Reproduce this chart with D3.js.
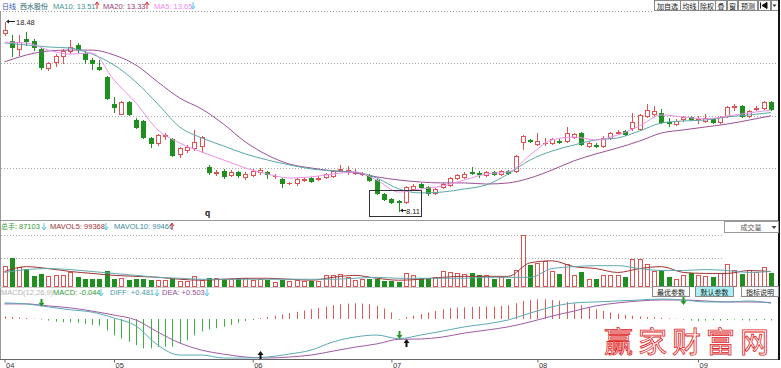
<!DOCTYPE html>
<html><head><meta charset="utf-8">
<script src="https://cdn.jsdelivr.net/npm/d3@7/dist/d3.min.js"></script>
<style>
html,body{margin:0;padding:0;background:#fff;}
svg{display:block;}
</style></head><body>
<svg id="chart" width="781" height="368"></svg>
<script>
// ---------------- DATA ----------------
const opens  = [17.88,17.44,17.00,17.55,17.44,17.00,15.95,16.28,16.61,16.89,17.22,16.78,16.39,16.01,15.46,13.98,13.43,14.09,13.10,13.05,12.11,11.84,12.22,12.06,11.23,11.45,11.56,11.67,10.52,10.19,10.30,10.08,10.25,9.97,10.08,10.25,10.25,10.03,9.86,9.64,9.64,9.81,9.92,9.86,9.97,10.03,10.36,10.30,10.19,10.14,10.08,9.81,9.04,8.76,8.65,8.60,9.31,9.59,9.42,9.09,9.42,9.53,9.92,9.97,10.25,10.19,10.08,10.25,10.14,10.30,10.30,11.89,12.00,11.78,11.84,11.84,11.95,11.95,12.17,12.39,11.67,11.73,11.67,12.11,12.39,12.50,12.66,12.61,13.32,13.43,13.48,12.99,12.88,13.16,13.26,13.16,13.05,13.16,12.99,13.32,13.81,13.87,13.32,13.70,13.76,14.09];
const highs  = [18.48,17.77,17.77,17.93,17.55,17.05,16.28,16.72,17.00,17.49,17.33,16.89,16.50,16.39,15.52,14.36,14.14,14.14,13.21,13.10,12.17,12.33,12.39,12.11,11.62,11.73,12.55,12.22,10.63,10.36,10.41,10.36,10.30,10.25,10.41,10.46,10.30,10.14,9.92,9.70,9.92,9.97,9.97,10.03,10.19,10.36,10.63,10.57,10.41,10.25,10.14,9.86,9.09,8.82,8.71,9.48,9.59,9.64,9.48,9.37,9.64,9.97,10.14,10.25,10.52,10.30,10.30,10.30,10.36,10.36,11.18,12.28,12.06,12.39,12.11,12.11,12.06,12.72,12.39,12.44,11.89,11.84,12.22,12.44,12.55,12.55,13.48,13.43,13.98,13.87,13.70,13.21,13.16,13.32,13.32,13.32,13.43,13.21,13.32,13.87,13.98,13.92,13.65,13.87,14.14,14.14];
const lows   = [17.77,16.61,16.67,17.22,16.94,15.90,15.85,16.06,16.23,16.78,16.83,16.23,15.90,15.85,14.25,13.54,13.43,13.37,12.66,12.11,11.62,11.73,12.06,11.12,11.07,11.34,11.45,11.34,10.14,10.08,9.92,10.03,9.97,9.86,10.03,10.14,9.92,9.92,9.42,9.59,9.53,9.75,9.70,9.81,9.92,9.97,10.30,10.14,10.14,10.08,9.75,9.04,8.71,8.54,8.11,8.54,9.26,9.37,8.98,9.04,9.37,9.48,9.86,9.92,10.14,9.97,10.03,10.08,10.08,10.14,10.25,11.51,11.89,11.73,11.73,11.78,11.84,11.89,12.11,11.73,11.62,11.62,11.62,12.06,12.33,12.28,12.55,12.55,13.26,13.32,12.94,12.77,12.83,13.05,13.10,12.94,12.99,12.94,12.94,13.26,13.65,13.26,13.26,13.65,13.70,13.65];
const closes = [18.04,17.11,17.38,17.44,17.11,16.01,16.23,16.61,16.89,17.11,17.00,16.45,16.23,15.90,14.31,13.81,14.09,13.43,12.72,12.17,11.84,12.28,12.28,11.18,11.56,11.62,11.89,12.17,10.25,10.25,10.03,10.25,10.08,10.14,10.30,10.36,10.14,10.04,9.64,9.67,9.86,9.86,9.75,9.92,10.14,10.30,10.41,10.36,10.25,10.19,9.81,9.09,8.76,8.60,8.60,9.42,9.48,9.42,9.09,9.31,9.59,9.92,10.08,10.14,10.17,10.14,10.25,10.14,10.30,10.19,11.12,12.22,11.95,11.95,11.86,12.06,11.92,12.39,12.33,11.78,11.84,11.70,12.11,12.39,12.44,12.33,12.99,13.37,13.65,13.59,12.99,12.94,13.05,13.26,13.16,13.18,13.21,12.99,13.26,13.81,13.87,13.32,13.59,13.76,14.09,13.70];
const volumes = [137000,185000,126000,116000,70000,85000,70000,79000,79000,95000,64000,54000,54000,50000,101000,50000,58000,44000,54000,50000,44000,44000,44000,50000,39000,39000,68000,44000,58000,60000,54000,54000,60000,60000,48000,50000,44000,33000,44000,37000,44000,37000,39000,39000,75000,75000,85000,64000,44000,54000,54000,54000,37000,39000,29000,89000,75000,58000,54000,64000,100000,95000,91000,85000,89000,79000,75000,50000,64000,54000,112000,334000,141000,154000,168000,100000,85000,147000,79000,95000,50000,50000,79000,75000,75000,64000,178000,178000,147000,100000,106000,64000,54000,79000,91000,75000,70000,64000,91000,147000,106000,85000,106000,95000,126000,87103];

// moving-average lines at every third session
const maIdx = [0,3,6,9,12,15,18,21,24,27,30,33,36,39,42,45,48,51,54,57,60,63,66,69,72,75,78,81,84,87,90,93,96,99,102,105];
const ma5  = [17.38,17.33,16.94,16.72,16.78,15.30,14.04,12.56,11.84,11.35,10.91,10.47,10.14,9.92,9.98,10.14,10.25,9.81,9.15,9.32,9.48,9.81,10.14,10.25,11.18,12.01,12.17,12.01,12.28,12.78,13.38,13.27,13.16,13.32,13.49,13.65];
const ma10 = [17.33,17.22,17.11,17.05,16.72,16.12,15.19,13.98,12.72,12.12,11.68,11.24,10.91,10.64,10.42,10.31,10.25,9.92,9.32,9.10,9.15,9.32,9.54,10.14,10.91,11.40,11.73,12.01,12.12,12.50,12.94,13.05,13.10,13.27,13.38,13.51];
const ma20 = [16.29,16.67,16.89,16.94,16.94,16.67,16.12,15.19,14.31,13.71,12.88,11.90,11.18,10.69,10.47,10.31,10.20,9.98,9.81,9.70,9.65,9.65,9.59,9.65,9.92,10.36,10.86,11.24,11.57,11.95,12.39,12.56,12.72,12.88,13.10,13.33];
const mavol5  = [99500,130600,118200,99500,87100,74600,68400,62200,49800,43500,49800,56000,56000,49800,43500,62200,74600,56000,43500,49800,62200,68400,68400,68400,155500,168000,130600,118200,93300,118200,130600,93300,87100,87100,105700,99368];
const mavol10 = [93300,112000,118200,112000,99500,87100,74600,62200,56000,49800,49800,49800,49800,49800,49800,49800,56000,62200,56000,56000,56000,56000,62200,62200,62200,118200,130600,136800,136800,118200,105700,105700,112000,105700,93300,99466];
const diff = [0.49,0.46,0.37,0.28,0.21,0.03,-0.21,-0.80,-1.10,-1.10,-1.19,-1.19,-1.16,-1.07,-0.95,-0.70,-0.55,-0.49,-0.60,-0.49,-0.37,-0.24,-0.15,-0.03,0.18,0.37,0.49,0.52,0.55,0.58,0.61,0.58,0.52,0.52,0.55,0.481];
const dea  = [0.46,0.46,0.40,0.34,0.24,0.12,-0.03,-0.40,-0.73,-0.95,-1.07,-1.16,-1.19,-1.16,-1.10,-0.98,-0.86,-0.76,-0.62,-0.61,-0.55,-0.43,-0.34,-0.24,-0.09,0.09,0.24,0.40,0.49,0.55,0.58,0.58,0.55,0.52,0.52,0.503];
const macdBar = [0.08,0.06,0.05,0.03,0.01,-0.02,-0.05,-0.08,-0.10,-0.10,-0.12,-0.15,-0.18,-0.20,-0.35,-0.50,-0.60,-0.70,-0.80,-0.90,-0.90,-0.85,-0.85,-0.85,-0.75,-0.65,-0.50,-0.38,-0.32,-0.28,-0.24,-0.18,-0.12,-0.06,-0.03,0.03,0.06,0.10,0.14,0.18,0.22,0.26,0.30,0.34,0.38,0.42,0.45,0.47,0.48,0.47,0.45,0.40,0.32,0.20,-0.02,0.05,0.10,0.15,0.20,0.25,0.30,0.33,0.35,0.36,0.37,0.38,0.38,0.38,0.40,0.42,0.48,0.55,0.58,0.60,0.60,0.58,0.56,0.52,0.48,0.42,0.36,0.30,0.25,0.20,0.16,0.13,0.10,0.08,0.06,0.05,0.04,0.02,0.01,-0.02,-0.05,-0.06,-0.05,-0.04,-0.05,-0.03,-0.02,-0.04,-0.05,-0.04,-0.03,-0.044];
const crossIdx  = [5, 35, 54, 55, 93];
const crossType = ["down","up","down","up","down"];
const crossVal  = [0.37, -0.98, -0.61, -0.61, 0.43];
const monthIdx    = [0, 15, 34, 53, 73, 95];
const monthLabels = ["04","05","06","07","08","09"];
const stockName = "西水股份";
const highVal = 18.48, lowVal = 8.11;

// ---------------- CHART ----------------
const svg = d3.select("#chart");
const RED = "#e05252", GREEN = "#1f8f1f";
const LATIN = "'Liberation Sans', Arial, sans-serif";
const CJK = "'Noto Sans CJK SC', sans-serif";
const N = closes.length;

const x  = d3.scaleLinear().domain([0, N-1]).range([4.5, 771]);
const yP = d3.scaleLinear().domain([lowVal, highVal]).range([211, 22]);
const yV = d3.scaleLinear().domain([0, 340000]).range([287, 234]);
const yM = d3.scaleLinear().domain([-1.19, 0.61]).range([358, 299]);

function txt(g, px, py, s, color, size, fam, anchor) {
  return g.append("text").attr("x", px).attr("y", py).text(s)
    .attr("fill", color).attr("font-size", size).attr("font-family", fam)
    .attr("text-anchor", anchor || "start");
}
function smallArrow(g, ax, ay, dir, color) {
  const p = dir === "up"
    ? `M${ax},${ay+7}L${ax},${ay}M${ax-2},${ay+3}L${ax},${ay}L${ax+2},${ay+3}`
    : `M${ax},${ay}L${ax},${ay+7}M${ax-2},${ay+4}L${ax},${ay+7}L${ax+2},${ay+4}`;
  g.append("path").attr("d", p).attr("stroke", color).attr("fill", "none").attr("stroke-width", 1);
}
function hline(y, x1, x2, color, dash) {
  const l = svg.append("line").attr("x1", x1).attr("x2", x2).attr("y1", y).attr("y2", y)
    .attr("stroke", color).attr("stroke-width", 1);
  if (dash) l.attr("stroke-dasharray", dash);
}

// frames and grid
svg.append("line").attr("x1",0.5).attr("x2",0.5).attr("y1",11).attr("y2",359).attr("stroke","#999");
hline(11.5, 0, 653, "#999", "1,2");
[63.5, 116.5, 168.5].forEach(y => hline(y, 1, 778, "#aaa", "1,2"));
hline(220.5, 0, 778, "#999");
[235.5, 258.5].forEach(y => hline(y, 1, 724, "#aaa", "1,2"));
hline(287.5, 0, 652, "#ccc");
hline(359.5, 0, 778, "#666");

// title row
const gT = svg.append("g");
txt(gT, 2, 8.5, "日线", "#3355bb", 7, CJK);
txt(gT, 20, 8.5, stockName, "#226666", 7, CJK);
txt(gT, 53, 8.5, "MA10: " + ma10[ma10.length-1].toFixed(2), "#3f9494", 7.5, LATIN);
smallArrow(gT, 97, 2, "up", "#e03030");
txt(gT, 103, 8.5, "MA20: " + ma20[ma20.length-1].toFixed(2), "#9a3a72", 7.5, LATIN);
smallArrow(gT, 147, 2, "up", "#e03030");
txt(gT, 154, 8.5, "MA5: " + ma5[ma5.length-1].toFixed(2), "#ee88ee", 7.5, LATIN);
smallArrow(gT, 193, 2, "down", "#55c8ee");

// top buttons
const btns = [[654,26,"加自选"],[680,18,"均线"],[698,17,"除权"],[715,11,"叠"],[727,10,"窗"],[738,19,"预测"],[758,12,""],[771,7,""]];
btns.forEach(b => {
  svg.append("rect").attr("x", b[0]+0.5).attr("y", 0.5).attr("width", b[1]).attr("height", 10)
    .attr("fill", "#fafafa").attr("stroke", "#888");
  if (b[2]) txt(svg, b[0] + b[1]/2 + 0.5, 8.5, b[2], "#222", 7, CJK, "middle");
});
svg.append("path").attr("d","M760.5,2.5L760.5,8.5M767,2.5L762,5.5L767,8.5Z").attr("stroke","#111").attr("fill","#111");
svg.append("path").attr("d","M772.5,4.5L776.5,4.5L774.5,7Z").attr("fill","#333");
svg.append("line").attr("x1",779).attr("x2",779).attr("y1",0).attr("y2",360).attr("stroke","#111").attr("stroke-width",2);

// candles
const gC = svg.append("g");
for (let i = 0; i < N; i++) {
  const cx = Math.round(x(i));
  const up = closes[i] >= opens[i];
  const col = up ? RED : GREEN;
  const yt = Math.round(yP(Math.max(opens[i], closes[i])));
  const yb = Math.round(yP(Math.min(opens[i], closes[i])));
  const yh = Math.round(yP(highs[i])), yl = Math.round(yP(lows[i]));
  gC.append("line").attr("x1", cx+0.5).attr("x2", cx+0.5).attr("y1", yh).attr("y2", yt).attr("stroke", col);
  gC.append("line").attr("x1", cx+0.5).attr("x2", cx+0.5).attr("y1", yb+1).attr("y2", yl+1).attr("stroke", col);
  if (yb - yt < 1) {
    gC.append("line").attr("x1", cx-2).attr("x2", cx+3).attr("y1", yt+0.5).attr("y2", yt+0.5).attr("stroke", col);
  } else if (up) {
    gC.append("rect").attr("x", cx-1.5).attr("y", yt+0.5).attr("width", 4).attr("height", yb-yt)
      .attr("fill", "#fff").attr("stroke", col);
  } else {
    gC.append("rect").attr("x", cx-2).attr("y", yt).attr("width", 5).attr("height", yb-yt+1).attr("fill", col);
  }
}

// MA lines
function maLine(vals, scale) {
  return d3.line().x((d, j) => x(maIdx[j])).y(d => scale(d)).curve(d3.curveMonotoneX)(vals);
}
svg.append("path").attr("d", maLine(ma20, yP)).attr("fill","none").attr("stroke","#9c4f98").attr("stroke-width",1);
svg.append("path").attr("d", maLine(ma10, yP)).attr("fill","none").attr("stroke","#5aa8a8").attr("stroke-width",1);
svg.append("path").attr("d", maLine(ma5, yP)).attr("fill","none").attr("stroke","#ee90ee").attr("stroke-width",1);

// high / low markers
const iHi = highs.indexOf(d3.max(highs)), iLo = lows.indexOf(d3.min(lows));
{
  const hx = Math.round(x(iHi)) + 1, hy = Math.round(yP(highs[iHi])) - 0.5;
  svg.append("line").attr("x1", hx+1).attr("x2", hx+9).attr("y1", hy).attr("y2", hy).attr("stroke","#222");
  svg.append("path").attr("d", `M${hx},${hy}L${hx+3},${hy-2}L${hx+3},${hy+2}Z`).attr("fill","#222");
  txt(svg, hx+10, hy+3, highVal.toFixed(2), "#222", 7.5, LATIN);
  const lx = Math.round(x(iLo)) + 1, ly = Math.round(yP(lows[iLo])) - 0.5;
  svg.append("line").attr("x1", lx+1).attr("x2", lx+6).attr("y1", ly).attr("y2", ly).attr("stroke","#222");
  svg.append("path").attr("d", `M${lx},${ly}L${lx+3},${ly-2}L${lx+3},${ly+2}Z`).attr("fill","#222");
  txt(svg, lx+6, ly+3, lowVal.toFixed(2), "#222", 7.5, LATIN);
}
svg.append("rect").attr("x", 369.5).attr("y", 190.5).attr("width", 52).attr("height", 26)
  .attr("fill","none").attr("stroke","#333");
txt(svg, 205, 216, "q", "#111", 8.5, LATIN).attr("font-weight","bold");

// volume title
const gV = svg.append("g");
txt(gV, 1, 229, "总手:", "#2f9a2f", 7, CJK);
txt(gV, 19, 229, " " + volumes[N-1], "#2f9a2f", 7.5, LATIN);
smallArrow(gV, 44, 223, "down", "#55c8ee");
txt(gV, 50, 229, "MAVOL5: " + mavol5[mavol5.length-1], "#a03434", 7.5, LATIN);
smallArrow(gV, 106, 223, "down", "#55c8ee");
txt(gV, 114, 229, "MAVOL10: " + mavol10[mavol10.length-1], "#3b8c9a", 7.5, LATIN);
smallArrow(gV, 172, 223, "up", "#e03030");
svg.append("rect").attr("x", 724.5).attr("y", 221.5).attr("width", 54).attr("height", 11).attr("fill","#fff").attr("stroke","#999");
txt(svg, 751, 230, "成交量", "#555", 7, CJK, "middle");
svg.append("path").attr("d","M771.5,226L776.5,226L774,229Z").attr("fill","#444");

// volume bars
const gB = svg.append("g");
const vBase = yV(0);
for (let i = 0; i < N; i++) {
  const cx = Math.round(x(i));
  const up = closes[i] >= opens[i];
  const top = Math.round(yV(volumes[i]));
  if (up) {
    gB.append("rect").attr("x", cx-1.5).attr("y", top+0.5).attr("width", 4).attr("height", vBase-top-1)
      .attr("fill","#fff").attr("stroke", RED);
  } else {
    gB.append("rect").attr("x", cx-2).attr("y", top).attr("width", 5).attr("height", vBase-top).attr("fill", GREEN);
  }
}
svg.append("path").attr("d", maLine(mavol5, yV)).attr("fill","none").attr("stroke","#a03434").attr("stroke-width",1);
svg.append("path").attr("d", maLine(mavol10, yV)).attr("fill","none").attr("stroke","#62a8b0").attr("stroke-width",1);

// MACD title
const gM = svg.append("g");
txt(gM, 1, 295, "MACD(12,26,9)", "#b4b4b4", 7.5, LATIN);
txt(gM, 53, 295, "MACD: " + macdBar[N-1].toFixed(3), "#2f9a2f", 7.5, LATIN);
smallArrow(gM, 101, 289, "down", "#55c8ee");
txt(gM, 110, 295, "DIFF: +" + diff[diff.length-1].toFixed(3), "#3f9aa6", 7.5, LATIN);
smallArrow(gM, 157, 289, "down", "#55c8ee");
txt(gM, 162, 295, "DEA: +" + dea[dea.length-1].toFixed(3), "#9a4a9a", 7.5, LATIN);
smallArrow(gM, 207, 289, "down", "#55c8ee");
[[652,37,"最优参数","#fafafa"],[695,38,"默认参数","#a8f0f4"],[741,37,"指标说明","#fafafa"]].forEach(b => {
  svg.append("rect").attr("x", b[0]+0.5).attr("y", 286.5).attr("width", b[1]).attr("height", 10)
    .attr("fill", b[3]).attr("stroke", "#888");
  txt(svg, b[0] + b[1]/2 + 0.5, 294.5, b[2], "#222", 7, CJK, "middle");
});

// MACD histogram
const gH = svg.append("g");
const z = yM(0);
for (let i = 0; i < N; i++) {
  const cx = Math.round(x(i)) + 0.5;
  gH.append("line").attr("x1", cx).attr("x2", cx).attr("y1", z).attr("y2", yM(macdBar[i]))
    .attr("stroke", macdBar[i] >= 0 ? "#e05a5a" : "#3cb043").attr("stroke-width", 1);
}
svg.append("path").attr("d", maLine(dea, yM)).attr("fill","none").attr("stroke","#a05aa8").attr("stroke-width",1);
svg.append("path").attr("d", maLine(diff, yM)).attr("fill","none").attr("stroke","#5aaab4").attr("stroke-width",1);

// cross markers
crossIdx.forEach((ci, k) => {
  const ax = Math.round(x(ci)) + 0.5;
  const tip = yM(crossVal[k]);
  if (crossType[k] === "down") {
    svg.append("line").attr("x1", ax).attr("x2", ax).attr("y1", tip-8).attr("y2", tip-3).attr("stroke", "#229922").attr("stroke-width", 2);
    svg.append("path").attr("d", `M${ax-3},${tip-4}L${ax+3},${tip-4}L${ax},${tip}Z`).attr("fill", "#229922");
  } else {
    svg.append("line").attr("x1", ax).attr("x2", ax).attr("y1", tip+3).attr("y2", tip+8).attr("stroke", "#111").attr("stroke-width", 2);
    svg.append("path").attr("d", `M${ax-3},${tip+4}L${ax+3},${tip+4}L${ax},${tip}Z`).attr("fill", "#111");
  }
});

// time axis
const axis = d3.axisBottom(x).tickValues(monthIdx).tickFormat((d, k) => monthLabels[k]).tickSize(3).tickPadding(1);
const gA = svg.append("g").attr("transform", "translate(0,359.5)").call(axis);
gA.select(".domain").remove();
gA.selectAll(".tick line").attr("stroke", "#666");
gA.selectAll(".tick text").attr("text-anchor", "start").attr("dx", 1).attr("dy", 0)
  .attr("y", 8).attr("font-size", 7.5).attr("font-family", LATIN).attr("fill", "#333");

// watermark (thin red outline lettering)
txt(svg, 604, 353, "赢家财富网", "none", 29, CJK)
  .attr("letter-spacing", 5).attr("stroke", "#e02020").attr("stroke-width", 0.8);
</script>
</body></html>
